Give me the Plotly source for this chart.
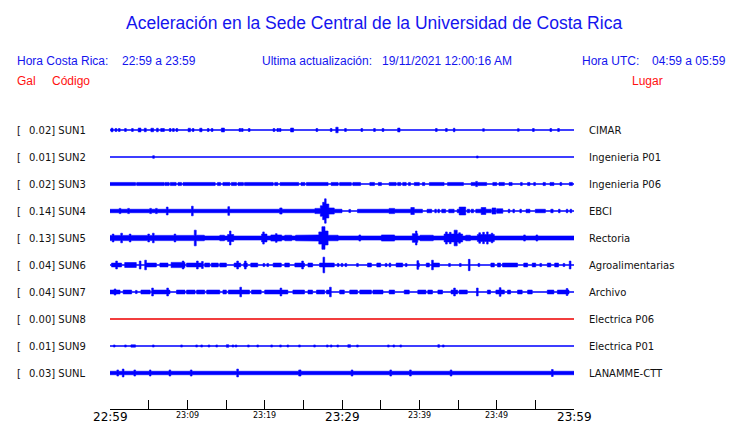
import plotly.graph_objects as go

# ---------------- data ----------------
CODES = ["SUN1", "SUN2", "SUN3", "SUN4", "SUN5", "SUN6", "SUN7", "SUN8", "SUN9", "SUNL"]
PEAK_GAL = ["0.02", "0.01", "0.02", "0.14", "0.13", "0.04", "0.04", "0.00", "0.01", "0.03"]
PLACES = ["CIMAR", "Ingenieria P01", "Ingenieria P06", "EBCI", "Rectoria",
          "Agroalimentarias", "Archivo", "Electrica P06", "Electrica P01", "LANAMME-CTT"]
TRACE_COLORS = ["#0000ff"] * 7 + ["#ee0000"] + ["#0000ff"] * 2
# constant background amplitude of each trace (Gal)
BASE_GAL = [0, 0, 0, 0, 0.023, 0, 0, 0, 0, 0.02]

TICK_MIN = [0, 5, 10, 15, 20, 25, 30, 35, 40, 45, 50, 55, 60]
TICK_TEXT = ["22:59", "", "23:09", "", "23:19", "", "23:29", "", "23:39", "", "23:49", "", "23:59"]
TICK_BIG = [True, False, False, False, False, False, True, False, False, False, False, False, True]

# Envelope bursts, minutes after 22:59: (t, amp) spike or (start, end, amp) block, amp in Gal
SUN1_BURSTS = [(0.13, 0.39, 0.02), (0.77, 0.017), (1.2, 0.017), (2.0, 0.017), (2.9, 0.017),
               (3.65, 4.0, 0.022), (4.43, 4.69, 0.02), (5.29, 5.63, 0.02), (6.02, 6.24, 0.02),
               (6.67, 0.017), (6.92, 0.017), (7.78, 0.017), (8.2, 0.017), (8.65, 0.017),
               (10.1, 10.4, 0.02), (10.75, 0.017), (11.6, 11.9, 0.02), (12.7, 0.017), (13.2, 0.017),
               (14.4, 14.8, 0.022), (16.8, 0.017), (17.1, 0.017), (18.0, 0.017), (21.2, 0.017),
               (21.7, 0.017), (22.0, 0.017), (23.35, 23.74, 0.022), (26.75, 0.017), (28.6, 0.017),
               (29.2, 29.5, 0.032), (30.45, 0.017), (32.56, 0.017), (34.2, 0.017), (35.3, 0.017),
               (37.2, 37.5, 0.022), (42.2, 0.017), (43.5, 0.017), (44.4, 44.6, 0.02), (48.3, 0.015),
               (52.8, 0.015), (54.75, 0.017), (57.0, 0.017), (58.0, 0.017)]
SUN2_BURSTS = [(5.63, 0.015), (47.5, 0.012)]
SUN3_BURSTS = [(0, 3.3, 0.018), (3.45, 7.0, 0.018), (7.1, 7.65, 0.018), (7.8, 8.55, 0.018),
               (8.8, 9.25, 0.018), (9.45, 13.6, 0.018), (13.9, 14.3, 0.018), (14.6, 15.5, 0.018),
               (15.7, 16.35, 0.018), (16.55, 17.25, 0.018), (17.4, 21.1, 0.018), (21.3, 21.7, 0.018),
               (22.0, 24.4, 0.018), (24.7, 25.2, 0.018), (25.4, 28.2, 0.018), (28.6, 29.5, 0.018),
               (29.7, 31.2, 0.018), (31.4, 32.4, 0.018), (33.6, 34.2, 0.018), (34.7, 35.1, 0.018),
               (36.1, 37.0, 0.018), (37.2, 37.6, 0.018), (37.85, 38.3, 0.018), (38.6, 38.85, 0.018),
               (39.35, 40.0, 0.018), (40.4, 40.7, 0.018), (41.3, 43.2, 0.018), (43.65, 45.7, 0.018),
               (46.7, 48.7, 0.018), (47.4, 0.03), (49.5, 50.0, 0.018), (50.3, 51.0, 0.018),
               (51.6, 52.0, 0.018), (53.2, 0.018), (54.0, 54.3, 0.018), (54.9, 0.018),
               (56.0, 56.3, 0.018), (56.9, 57.4, 0.018), (58.3, 0.018), (59.4, 59.8, 0.018)]
SUN4_BURSTS = [(0, 30.0, 0.02), (32.0, 40.4, 0.02), (41.0, 41.6, 0.02), (42.0, 42.2, 0.02),
               (42.4, 42.6, 0.02), (42.9, 43.4, 0.02), (43.8, 44.5, 0.02), (44.9, 46.0, 0.02),
               (45.15, 46.0, 0.045), (46.2, 46.5, 0.02), (46.7, 47.0, 0.02), (47.3, 49.3, 0.02),
               (48.0, 48.6, 0.04), (49.4, 49.9, 0.035), (50.0, 50.8, 0.025), (51.5, 51.7, 0.02),
               (52.1, 52.3, 0.02), (53.0, 53.2, 0.02), (53.8, 54.3, 0.02), (55.0, 56.3, 0.02),
               (57.0, 57.3, 0.02), (58.0, 58.2, 0.02), (59.0, 59.2, 0.02), (59.5, 59.7, 0.02),
               (1.3, 0.03), (2.4, 0.03), (5.25, 0.03), (6.0, 0.03), (7.4, 0.045), (10.65, 0.055),
               (15.35, 0.05), (18.3, 19.1, 0.028), (21.95, 22.25, 0.035), (26.5, 27.2, 0.03),
               (27.2, 27.5, 0.06), (27.5, 27.75, 0.1), (27.75, 27.95, 0.14), (27.95, 28.3, 0.08),
               (28.3, 29.0, 0.035), (31.0, 0.018), (36.1, 36.8, 0.03), (38.9, 39.35, 0.04)]
SUN5_BURSTS = [(0, 11.0, 0.03), (0.4, 0.045), (1.5, 0.055), (2.6, 0.045), (5.0, 0.045), (5.6, 0.055),
               (6.3, 7.2, 0.035), (8.4, 0.045), (9.9, 10.4, 0.035), (10.9, 11.15, 0.09),
               (11.2, 12.2, 0.032), (12.5, 13.5, 0.03), (14.2, 14.8, 0.032), (15.2, 16.0, 0.04),
               (15.45, 15.65, 0.08), (16.5, 19.5, 0.028), (19.6, 20.3, 0.045), (19.75, 19.95, 0.07),
               (20.8, 22.2, 0.035), (21.5, 0.05), (22.6, 23.5, 0.032), (24.0, 25.2, 0.032),
               (25.2, 27.0, 0.035), (27.0, 27.4, 0.07), (27.4, 27.8, 0.13), (27.8, 28.2, 0.08),
               (28.2, 29.5, 0.032), (32.3, 0.035), (35.1, 36.8, 0.035), (39.1, 39.8, 0.05),
               (39.5, 39.7, 0.08), (40.1, 41.8, 0.032), (43.2, 45.6, 0.045), (43.5, 0.07),
               (44.0, 0.065), (44.5, 44.9, 0.09), (45.2, 0.06), (46.0, 46.6, 0.032),
               (47.5, 49.7, 0.04), (47.8, 0.06), (48.3, 0.065), (48.7, 48.9, 0.07), (49.4, 0.055),
               (53.6, 0.035), (54.6, 0.03), (55.2, 0.035)]
SUN6_BURSTS = [(0.2, 1.5, 0.022), (0.85, 0.045), (1.9, 3.4, 0.028), (3.9, 0.045), (4.5, 6.0, 0.022),
               (4.6, 0.055), (6.45, 7.5, 0.022), (7.9, 9.7, 0.03), (9.45, 0.045), (9.9, 12.0, 0.022),
               (11.3, 0.045), (11.95, 0.04), (12.25, 12.9, 0.022), (13.1, 14.0, 0.022),
               (14.2, 15.05, 0.022), (16.05, 16.9, 0.022), (16.5, 0.045), (17.3, 17.75, 0.022),
               (17.5, 0.045), (18.2, 19.1, 0.022), (19.9, 0.018), (20.4, 0.018), (21.1, 22.15, 0.022),
               (22.6, 23.2, 0.022), (23.9, 25.15, 0.022), (24.9, 0.045), (25.6, 26.2, 0.022),
               (27.1, 29.0, 0.022), (27.65, 0.09), (29.5, 0.018), (30.0, 0.018), (30.5, 0.018),
               (32.0, 0.018), (33.3, 33.8, 0.022), (34.5, 35.0, 0.022), (35.7, 0.018),
               (36.1, 36.3, 0.022), (37.0, 37.85, 0.022), (38.3, 0.018), (39.7, 40.0, 0.022),
               (39.8, 0.05), (40.9, 41.3, 0.022), (41.6, 42.6, 0.022), (41.7, 0.055), (43.9, 0.018),
               (45.3, 0.018), (46.45, 0.065), (47.7, 0.018), (49.25, 49.7, 0.022), (50.1, 50.5, 0.022),
               (50.75, 52.7, 0.022), (53.5, 54.0, 0.022), (54.6, 55.05, 0.022), (55.7, 0.018),
               (56.55, 57.0, 0.022), (57.5, 58.0, 0.022), (58.7, 0.018), (59.5, 0.045)]
SUN7_BURSTS = [(0, 1.3, 0.022), (0.65, 0.035), (1.7, 2.8, 0.022), (3.4, 0.018), (4.0, 5.2, 0.022),
               (5.4, 5.8, 0.022), (5.5, 0.045), (5.8, 7.75, 0.022), (7.45, 0.045), (8.6, 9.7, 0.022),
               (9.9, 11.0, 0.022), (11.2, 12.25, 0.022), (12.5, 14.2, 0.022), (14.6, 15.05, 0.022),
               (15.3, 18.05, 0.022), (16.9, 0.055), (18.3, 19.55, 0.022), (20.0, 23.0, 0.022),
               (22.1, 0.045), (23.65, 25.15, 0.022), (25.6, 26.2, 0.022), (26.7, 27.75, 0.022),
               (28.0, 28.6, 0.022), (28.5, 0.055), (29.7, 30.3, 0.022), (31.0, 32.0, 0.022),
               (32.3, 33.8, 0.022), (34.0, 35.3, 0.022), (36.1, 36.8, 0.022), (38.05, 38.7, 0.022),
               (39.8, 40.85, 0.022), (41.1, 41.7, 0.022), (42.4, 43.0, 0.022), (44.1, 44.95, 0.022),
               (44.55, 0.045), (45.15, 46.2, 0.022), (47.5, 0.045), (48.8, 49.2, 0.022),
               (49.9, 51.0, 0.022), (50.45, 0.05), (51.4, 51.8, 0.022), (52.7, 53.3, 0.022),
               (54.0, 54.6, 0.022), (56.55, 57.4, 0.022), (57.85, 59.35, 0.022), (59.1, 0.04)]
SUN8_BURSTS = []
SUN9_BURSTS = [(0.55, 0.012), (2.0, 0.012), (2.7, 3.3, 0.013), (5.6, 0.012), (9.25, 0.012),
               (11.2, 0.012), (11.85, 0.012), (12.8, 0.012), (13.8, 0.012), (15.05, 15.35, 0.015),
               (15.9, 0.012), (16.3, 0.012), (17.9, 0.012), (19.1, 0.012), (20.9, 0.012),
               (22.05, 0.012), (23.0, 0.012), (24.5, 0.012), (26.45, 0.012), (28.1, 0.012),
               (28.6, 0.012), (29.45, 0.012), (30.75, 31.1, 0.015), (32.0, 0.012), (36.0, 0.012),
               (36.7, 0.012), (37.6, 0.012), (42.5, 0.015), (43.1, 0.012)]
SUNL_BURSTS = [(1.0, 0.035), (1.7, 0.045), (3.2, 0.035), (5.1, 5.3, 0.035), (7.75, 0.035),
               (10.5, 0.035), (16.5, 0.045), (24.4, 24.7, 0.035), (31.3, 0.035), (36.3, 0.035),
               (38.85, 0.035), (44.1, 0.035), (57.2, 0.04)]

ALL_BURSTS = [SUN1_BURSTS, SUN2_BURSTS, SUN3_BURSTS, SUN4_BURSTS, SUN5_BURSTS,
              SUN6_BURSTS, SUN7_BURSTS, SUN8_BURSTS, SUN9_BURSTS, SUNL_BURSTS]

# ---------------- style ----------------
OFF = 8                   # page body margin of the browser
W, H = 740 - OFF, 423 - OFF
PLOT_X0, PLOT_X1 = 110, 574   # reference-pixel extent of the time axis
PLOT_Y0, PLOT_Y1 = 100, 409
L, T = PLOT_X0 - OFF, PLOT_Y0 - OFF
R, B = W - (PLOT_X1 - OFF), H - (PLOT_Y1 - OFF)
ROW_PX = 27
ROW0_PX = 130
GAL_PX = 87.0            # display scale: pixels per Gal
SPIKE_W = 0.22           # minutes
DURATION = 60
BLUE = "#1414ee"
RED = "#ff1010"

plot_h = PLOT_Y1 - PLOT_Y0
y_top = (ROW0_PX - PLOT_Y0) / ROW_PX
y_bot = -(PLOT_Y1 - ROW0_PX) / ROW_PX
scale = GAL_PX / ROW_PX


def envelope(bursts, base):
    segs = []
    for b in bursts:
        if len(b) == 2:
            s, e, a = b[0] - SPIKE_W / 2, b[0] + SPIKE_W / 2, b[1]
        else:
            s, e, a = b
        segs.append((max(0.0, s), min(float(DURATION), e), a))
    pts = sorted({0.0, float(DURATION)} | {s for s, _, _ in segs} | {e for _, e, _ in segs})
    xs, amps = [], []
    for k in range(len(pts) - 1):
        m = 0.5 * (pts[k] + pts[k + 1])
        a = max([base] + [aa for s, e, aa in segs if s <= m < e])
        xs += [pts[k], pts[k + 1]]
        amps += [a, a]
    return xs, amps


fig = go.Figure()
for i, code in enumerate(CODES):
    row = -i
    col = TRACE_COLORS[i]
    xs, amps = envelope(ALL_BURSTS[i], BASE_GAL[i])
    px_ = xs + xs[::-1]
    py_ = [row + a * scale for a in amps] + [row - a * scale for a in amps[::-1]]
    fig.add_trace(go.Scatter(x=px_, y=py_, mode="lines", fill="toself", fillcolor=col,
                             line=dict(color=col, width=0.6), hoverinfo="skip", showlegend=False))
    fig.add_trace(go.Scatter(x=[0, DURATION], y=[row, row], mode="lines",
                             line=dict(color=col, width=1.2), hoverinfo="skip", showlegend=False))


def paper_x(px):
    return (px - PLOT_X0) / (PLOT_X1 - PLOT_X0)


def paper_y(py):
    return (PLOT_Y1 - py) / plot_h


ann = []
ann.append(dict(text="Aceleración en la Sede Central de la Universidad de Costa Rica",
                x=paper_x(374), y=paper_y(23), xanchor="center", yanchor="middle",
                font=dict(family="Liberation Sans", size=17.5, color=BLUE)))
hdr = [("Hora Costa Rica:", 15), ("22:59 a 23:59", 120), ("Ultima actualización:", 260),
       ("19/11/2021 12:00:16 AM", 380), ("Hora UTC:", 580), ("04:59 a 05:59", 650)]
for txt, x0 in hdr:
    ann.append(dict(text=txt, x=paper_x(x0), y=paper_y(61), xanchor="left", yanchor="middle",
                    font=dict(family="Liberation Sans", size=12, color=BLUE)))
for txt, x0 in [("Gal", 15), ("Código", 50), ("Lugar", 630)]:
    ann.append(dict(text=txt, x=paper_x(x0), y=paper_y(81), xanchor="left", yanchor="middle",
                    font=dict(family="Liberation Sans", size=12, color=RED)))
for i, code in enumerate(CODES):
    ann.append(dict(text="[", x=paper_x(15), y=-i, yref="y", xanchor="left", yanchor="middle",
                    font=dict(family="DejaVu Sans", size=10, color="#111111")))
    ann.append(dict(text=f"{PEAK_GAL[i]}] {code}", x=paper_x(27), y=-i, yref="y",
                    xanchor="left", yanchor="middle",
                    font=dict(family="DejaVu Sans", size=10, color="#111111")))
    ann.append(dict(text=PLACES[i], x=paper_x(587), y=-i, yref="y", xanchor="left",
                    yanchor="middle", font=dict(family="DejaVu Sans", size=10, color="#111111")))
for tv, tt, big in zip(TICK_MIN, TICK_TEXT, TICK_BIG):
    if tt:
        ann.append(dict(text=tt, x=tv, xref="x", y=paper_y(416.5 if big else 415.5),
                        yanchor="middle", xanchor="center", borderpad=0,
                        font=dict(family="DejaVu Sans", size=12 if big else 8, color="#000000")))

for a in ann:
    a.setdefault("xref", "paper")
    a.setdefault("yref", "paper")
    a["showarrow"] = False

fig.update_layout(
    width=W, height=H, margin=dict(l=L, r=R, t=T, b=B),
    paper_bgcolor="white", plot_bgcolor="white", showlegend=False,
    annotations=ann,
    xaxis=dict(range=[0, DURATION], tickvals=TICK_MIN, ticks="inside", ticklen=9,
               tickcolor="black", tickwidth=1, showticklabels=False, showline=True,
               linecolor="black", linewidth=1, showgrid=False, zeroline=False, fixedrange=True),
    yaxis=dict(range=[y_bot, y_top], visible=False, showgrid=False, zeroline=False,
               fixedrange=True),
)

fig.write_html("out.html")
